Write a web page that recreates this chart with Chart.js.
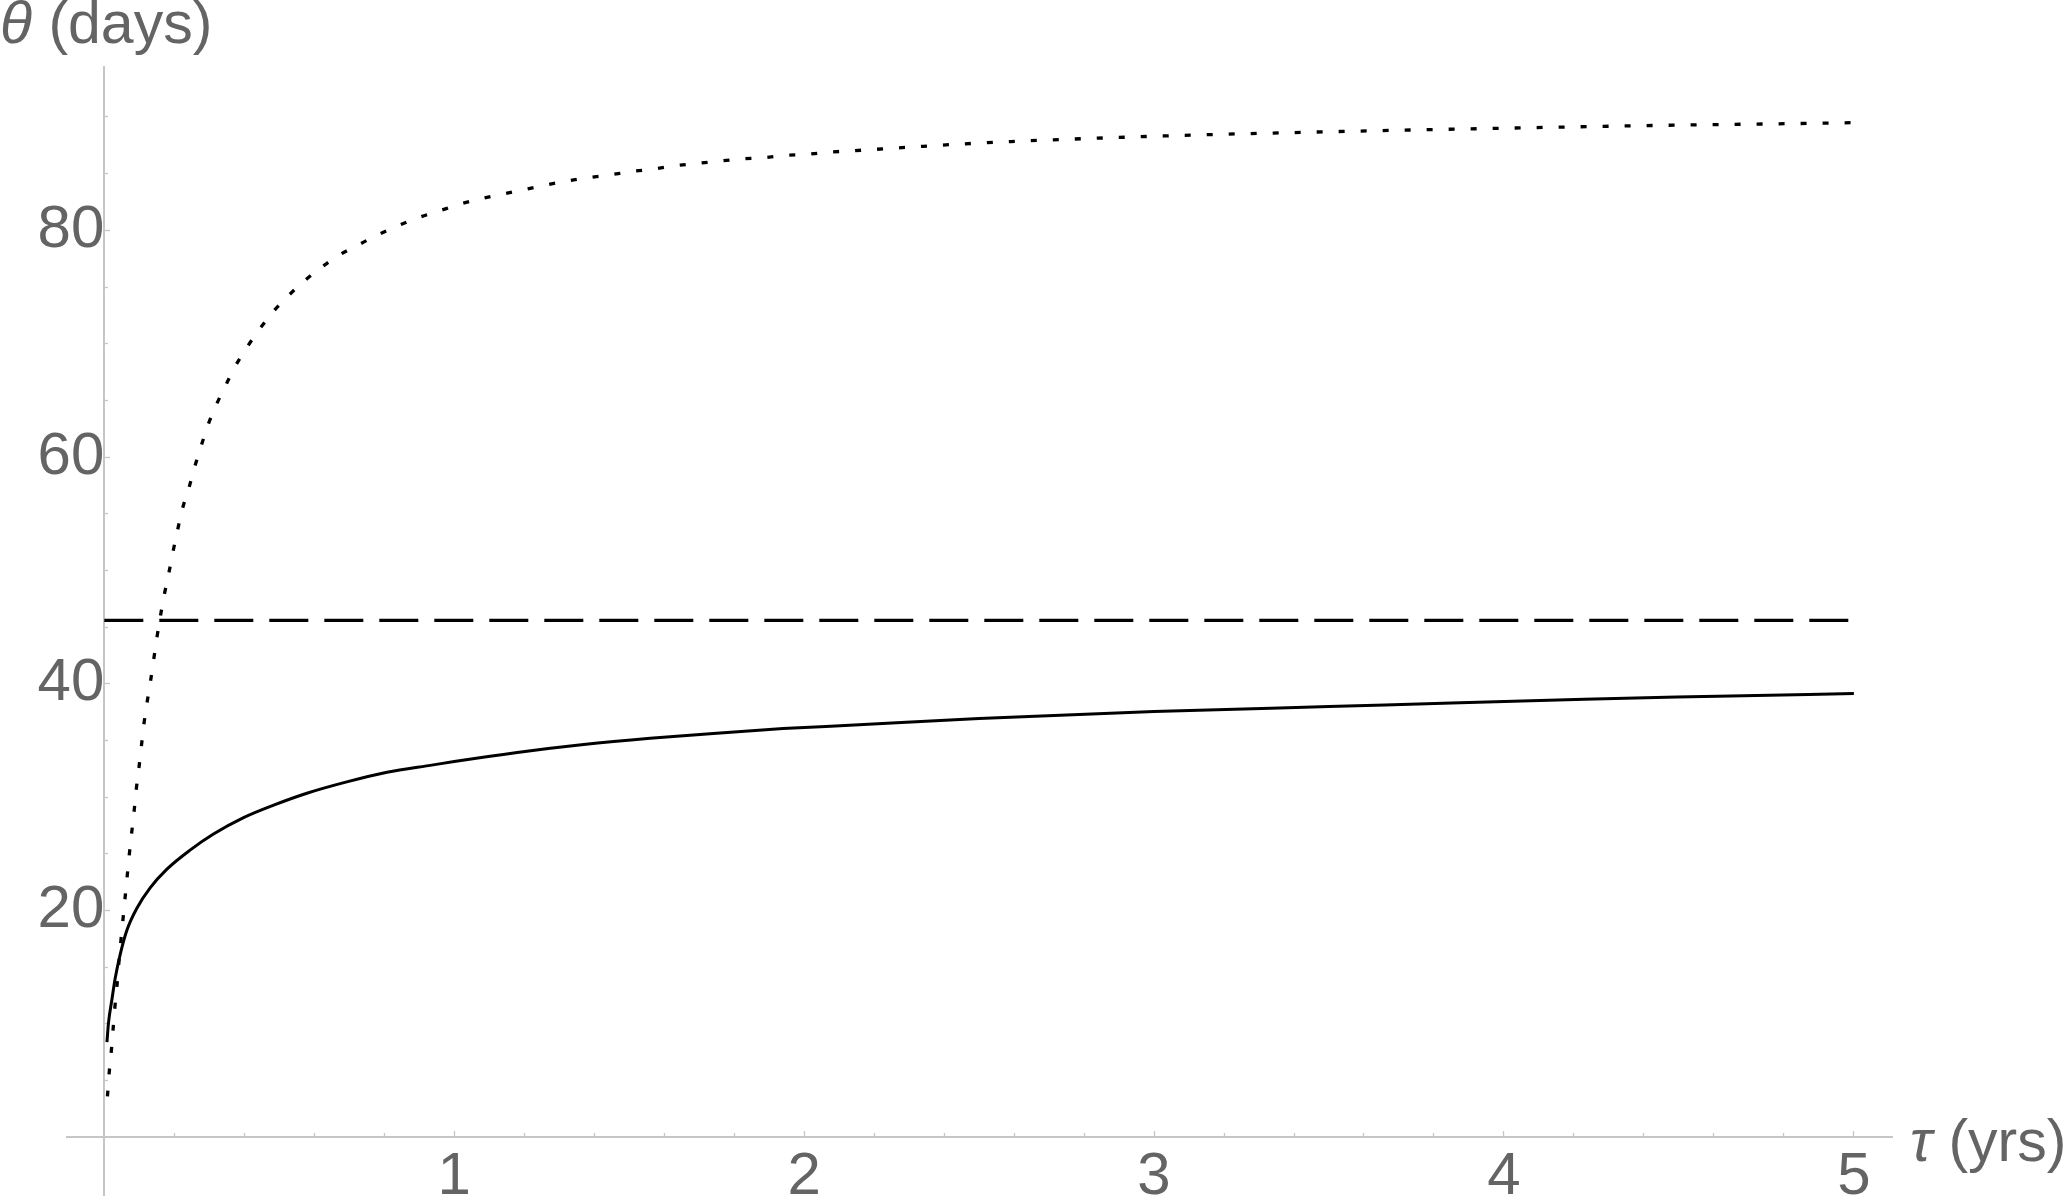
<!DOCTYPE html>
<html>
<head>
<meta charset="utf-8">
<script src="https://cdn.jsdelivr.net/npm/chart.js@4.4.1/dist/chart.umd.min.js"></script>
<style>
  html, body { margin: 0; padding: 0; background: #ffffff; overflow: hidden; }
  #wrap { position: relative; width: 2067px; height: 1199px; }
  canvas { display: block; }
</style>
</head>
<body>
<div id="wrap"><canvas id="c" width="2067" height="1199"></canvas></div>
<script>
// ---- data ----
const tauSolid   = [0.0076, 0.012, 0.022, 0.031, 0.046, 0.065, 0.093, 0.131, 0.179, 0.246, 0.312, 0.398, 0.484, 0.579, 0.693, 0.808, 0.94, 1.0, 1.18, 1.37, 1.56, 1.75, 1.94, 2.13, 2.5, 3.0, 3.5, 3.85, 4.23, 4.61, 5.0];
const thetaSolid = [8.4, 10.1, 12.2, 14.0, 16.2, 18.3, 20.2, 22.0, 23.65, 25.35, 26.75, 28.2, 29.3, 30.35, 31.35, 32.2, 32.85, 33.15, 33.95, 34.65, 35.2, 35.65, 36.05, 36.35, 36.95, 37.55, 38.0, 38.3, 38.65, 38.9, 39.15];

const tauDotted   = [0.009, 0.014, 0.020, 0.025, 0.030, 0.036, 0.041, 0.047, 0.053, 0.059, 0.065, 0.071, 0.078, 0.085, 0.091, 0.099, 0.106, 0.113, 0.122, 0.132, 0.141, 0.150, 0.160, 0.171, 0.184, 0.196, 0.209, 0.223, 0.242, 0.258, 0.276, 0.296, 0.320, 0.348, 0.374, 0.408, 0.444, 0.482, 0.525, 0.570, 0.619, 0.670, 0.725, 0.781, 0.839, 0.896, 0.956, 1.015, 1.077, 1.138, 1.200, 1.262, 1.322, 1.384, 1.446, 1.508, 1.569, 1.631, 1.693, 1.756, 1.818, 1.881, 1.943, 2.006, 2.069, 2.127, 2.5, 3.0, 3.5, 3.88, 4.445, 4.946, 5.0];
const thetaDotted = [3.6, 5.7, 7.6, 9.5, 11.4, 13.3, 15.2, 17.2, 19.1, 21.0, 22.9, 24.8, 26.8, 28.7, 30.6, 32.6, 34.5, 36.4, 38.3, 40.2, 42.1, 44.0, 45.9, 47.8, 49.7, 51.6, 53.5, 55.4, 57.3, 59.1, 60.9, 62.8, 64.6, 66.4, 68.0, 69.7, 71.3, 72.8, 74.2, 75.5, 76.7, 77.8, 78.7, 79.6, 80.4, 81.1, 81.7, 82.3, 82.8, 83.2, 83.6, 84.0, 84.35, 84.65, 84.9, 85.2, 85.4, 85.7, 85.9, 86.1, 86.3, 86.4, 86.6, 86.7, 86.9, 87.0, 87.7, 88.3, 88.7, 88.94, 89.26, 89.47, 89.5];

const tauDashed   = [0, 5];
const thetaDashed = [45.6, 45.6];

const xMajorTicks = [1, 2, 3, 4, 5];
const xTickLabels = ['1', '2', '3', '4', '5'];
const xMinorTicks = [0.2, 0.4, 0.6, 0.8, 1.2, 1.4, 1.6, 1.8, 2.2, 2.4, 2.6, 2.8, 3.2, 3.4, 3.6, 3.8, 4.2, 4.4, 4.6, 4.8];
const yMajorTicks = [20, 40, 60, 80];
const yTickLabels = ['20', '40', '60', '80'];
const yMinorTicks = [5, 10, 15, 25, 30, 35, 45, 50, 55, 65, 70, 75, 85, 90];

const xTitleItalic = 'τ', xTitleRest = ' (yrs)';
const yTitleItalic = 'θ', yTitleRest = ' (days)';

// ---- style ----
const FONT = '"Liberation Sans", Arial, sans-serif';
const LABEL_COLOR = '#646464';
const AXIS_COLOR = '#c6c6c6';

function zip(xs, ys) { return xs.map((x, i) => ({ x: x, y: ys[i] })); }
function zeroPad(scale) { scale.paddingTop = 0; scale.paddingBottom = 0; scale.paddingLeft = 0; scale.paddingRight = 0; }

function axisScale(axis, posObj, ticksArr, labels, tickLen, showBorder) {
  return {
    type: 'linear',
    axis: axis,
    position: posObj,
    min: axis === 'x' ? -0.1066 : -5.09,
    max: axis === 'x' ? 5.109 : 94.41,
    afterBuildTicks: (s) => { s.ticks = ticksArr.map(v => ({ value: v })); },
    afterFit: zeroPad,
    ticks: {
      display: !!labels,
      autoSkip: false,
      maxRotation: 0,
      minRotation: 0,
      padding: axis === 'x' ? 17 : 17,
      color: LABEL_COLOR,
      font: { family: FONT, size: 60, lineHeight: 1 },
      callback: (v, i) => labels ? labels[i] : ''
    },
    grid: {
      drawOnChartArea: false,
      drawTicks: true,
      tickLength: tickLen,
      tickWidth: 1.3,
      tickColor: AXIS_COLOR,
      color: AXIS_COLOR
    },
    border: { display: showBorder, color: AXIS_COLOR, width: 2 }
  };
}

const titlePlugin = {
  id: 'axisTitles',
  afterDraw(chart) {
    const ctx = chart.ctx;
    ctx.save();
    ctx.fillStyle = LABEL_COLOR;
    ctx.textBaseline = 'alphabetic';
    ctx.textAlign = 'left';
    // y title (top left)
    ctx.font = 'italic 59px ' + FONT;
    let x0 = 0;
    ctx.fillText(yTitleItalic, x0, 43);
    x0 += ctx.measureText(yTitleItalic).width;
    ctx.font = '59px ' + FONT;
    ctx.fillText(yTitleRest, x0, 43);
    // x title (right of x axis)
    const xs = chart.scales.x, ys = chart.scales.y;
    const base = ys.getPixelForValue(0) + 24;
    let x1 = xs.right + 18;
    ctx.font = 'italic 59px ' + FONT;
    ctx.fillText(xTitleItalic, x1, base);
    x1 += ctx.measureText(xTitleItalic).width;
    ctx.font = '59px ' + FONT;
    ctx.fillText(xTitleRest, x1, base);
    ctx.restore();
  }
};

new Chart(document.getElementById('c'), {
  type: 'line',
  data: {
    datasets: [
      {
        label: 'solid',
        data: zip(tauSolid, thetaSolid),
        borderColor: '#000000',
        borderWidth: 3,
        pointRadius: 0,
        cubicInterpolationMode: 'monotone',
        fill: false
      },
      {
        label: 'dotted',
        data: zip(tauDotted, thetaDotted),
        borderColor: '#000000',
        borderWidth: 3.3,
        borderDash: [6, 16],
        borderCapStyle: 'butt',
        pointRadius: 0,
        cubicInterpolationMode: 'monotone',
        fill: false
      },
      {
        label: 'dashed',
        data: zip(tauDashed, thetaDashed),
        borderColor: '#000000',
        borderWidth: 3.4,
        borderDash: [39, 16],
        borderCapStyle: 'butt',
        pointRadius: 0,
        fill: false
      }
    ]
  },
  options: {
    responsive: false,
    animation: false,
    devicePixelRatio: 1,
    layout: { padding: { left: 67, top: 67, right: 175, bottom: 4 } },
    plugins: { legend: { display: false }, tooltip: { enabled: false }, title: { display: false } },
    scales: {
      x: axisScale('x', { y: 0 }, xMajorTicks, xTickLabels, -7, true),
      xm: axisScale('x', { y: 0 }, xMinorTicks, null, -4, false),
      y: axisScale('y', { x: 0 }, yMajorTicks, yTickLabels, -7, true),
      ym: axisScale('y', { x: 0 }, yMinorTicks, null, -4, false)
    }
  },
  plugins: [titlePlugin]
});
</script>
</body>
</html>
